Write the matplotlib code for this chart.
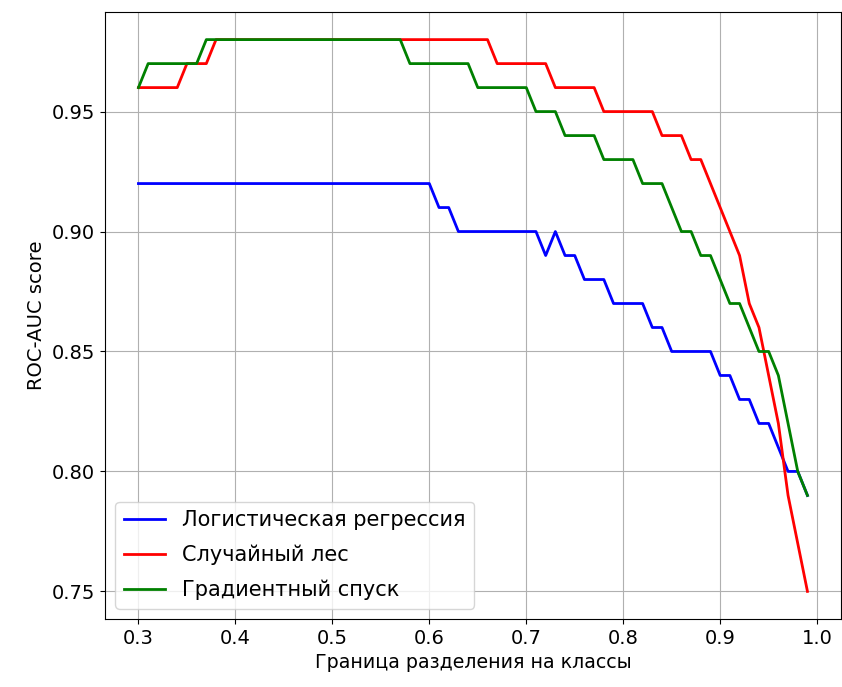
import numpy as np
import matplotlib
matplotlib.use("Agg")
import matplotlib.pyplot as plt

# class-split thresholds
thresholds = np.round(np.arange(0.30, 0.995, 0.01), 2)

logreg = ([0.92] * 31 + [0.91] * 2 + [0.90] * 9 + [0.89, 0.90, 0.89, 0.89]
          + [0.88] * 3 + [0.87] * 4 + [0.86] * 2 + [0.85] * 5
          + [0.84] * 2 + [0.83] * 2 + [0.82] * 2 + [0.81, 0.80, 0.80, 0.79])

forest = ([0.96] * 5 + [0.97] * 3 + [0.98] * 29 + [0.97] * 6 + [0.96] * 5
          + [0.95] * 6 + [0.94] * 3 + [0.93] * 2
          + [0.92, 0.91, 0.90, 0.89, 0.87, 0.86, 0.84, 0.82, 0.79, 0.77, 0.75])

boosting = ([0.96] + [0.97] * 6 + [0.98] * 21 + [0.97] * 7 + [0.96] * 6
            + [0.95] * 3 + [0.94] * 4 + [0.93] * 4 + [0.92] * 3
            + [0.91, 0.90, 0.90, 0.89, 0.89, 0.88, 0.87, 0.87, 0.86,
               0.85, 0.85, 0.84, 0.82, 0.80, 0.79])

labels = ["Логистическая регрессия", "Случайный лес", "Градиентный спуск"]

plt.rcParams["font.size"] = 14

fig = plt.figure(figsize=(8.42, 6.87), dpi=100)
ax = fig.add_axes([0.1247, 0.099, 0.874, 0.8835])

ax.plot(thresholds, logreg, color="blue", lw=2, label=labels[0])
ax.plot(thresholds, forest, color="red", lw=2, label=labels[1])
ax.plot(thresholds, boosting, color="green", lw=2, label=labels[2])

ax.set_xlabel("Граница разделения на классы", fontsize=13.7)
ax.set_ylabel("ROC-AUC score")
ax.set_yticks([0.75, 0.80, 0.85, 0.90, 0.95])
ax.grid(True)
ax.legend(loc="lower left", fontsize=15, labelspacing=0.7)

fig.savefig("out.png", dpi=100)
